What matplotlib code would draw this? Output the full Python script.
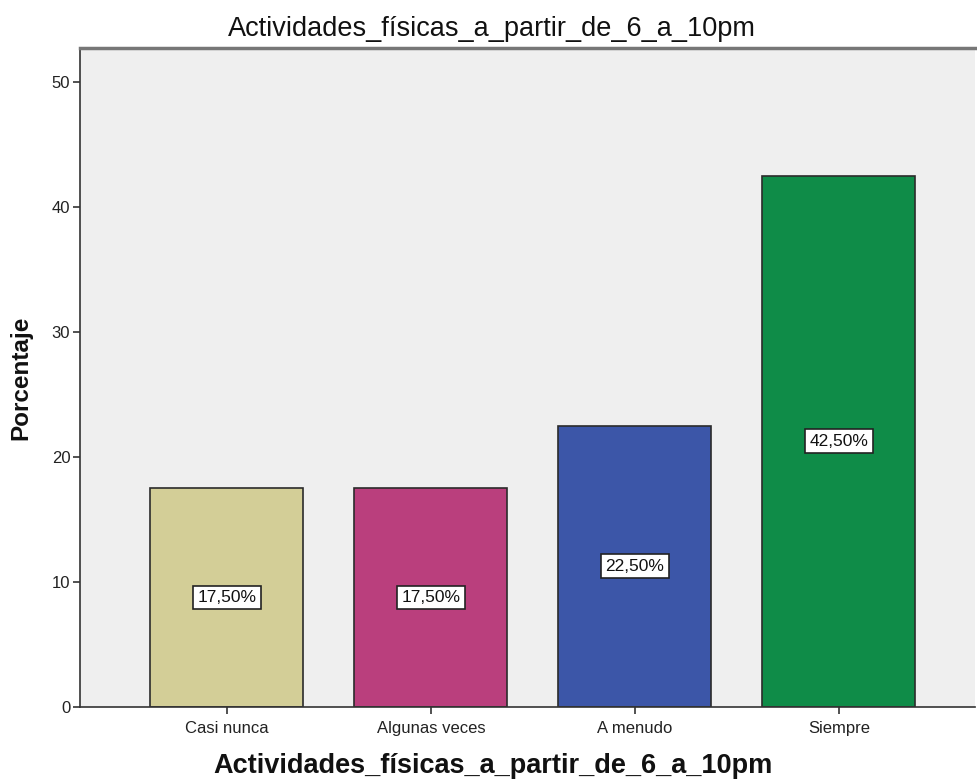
import matplotlib
matplotlib.use("Agg")
import matplotlib.pyplot as plt

categories = ["Casi nunca", "Algunas veces", "A menudo", "Siempre"]
percentages = [17.5, 17.5, 22.5, 42.5]
bar_colors = ["#D3CE97", "#BA3F7D", "#3C56A8", "#0F8C48"]
y_ticks = [0, 10, 20, 30, 40, 50]
title = "Actividades_físicas_a_partir_de_6_a_10pm"

plt.rcParams["font.family"] = ["Liberation Sans", "DejaVu Sans"]

W, H = 977, 781
fig = plt.figure(figsize=(W / 100, H / 100), dpi=100)
ax = fig.add_axes([80 / W, 1 - 707 / H, 895 / W, 659 / H])
ax.set_facecolor("#EFEFEF")

x = list(range(len(categories)))
ax.bar(x, percentages, width=0.75, color=bar_colors, edgecolor="#2b2b2b",
       linewidth=1.2, zorder=2)

for xi, v in zip(x, percentages):
    label = f"{v:.2f}%".replace(".", ",")
    ax.text(xi, v / 2, label, ha="center", va="center", fontsize=12.5,
            color="#111111", zorder=3,
            bbox=dict(boxstyle="square,pad=0.25", facecolor="white",
                      edgecolor="#222222", linewidth=1.2))

ax.set_xlim(-0.72, 3.667)
ax.set_ylim(0, 52.7)
ax.set_xticks(x)
ax.set_xticklabels(categories, fontsize=12, color="#222222")
ax.set_yticks(y_ticks)
ax.set_yticklabels([str(t) for t in y_ticks], fontsize=12, color="#222222")
ax.tick_params(axis="x", length=5, width=1.2, color="#333333", pad=5)
ax.tick_params(axis="y", length=5, width=1.2, color="#333333", pad=2)

ax.spines["right"].set_visible(False)
ax.spines["left"].set_color("#333333")
ax.spines["left"].set_linewidth(1.2)
ax.spines["bottom"].set_color("#333333")
ax.spines["bottom"].set_linewidth(1.2)
ax.spines["top"].set_color("#777777")
ax.spines["top"].set_linewidth(2.5)

# Title and category-axis label are centred on the whole figure
fig.text(492 / W, 1 - 29 / H, title, fontsize=19.5, fontweight="normal",
         color="#111111", ha="center", va="center")
fig.text(493 / W, 1 - 766 / H, title, fontsize=19.5, fontweight="bold",
         color="#111111", ha="center", va="center")
ax.set_ylabel("Porcentaje", fontsize=17.5, fontweight="bold", color="#111111", labelpad=14)

fig.savefig("out.png", dpi=100, facecolor="white")
